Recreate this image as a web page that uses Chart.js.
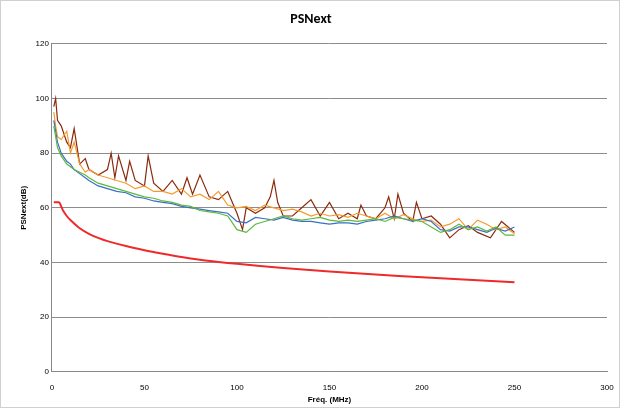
<!DOCTYPE html>
<html>
<head>
<meta charset="utf-8">
<script src="https://cdn.jsdelivr.net/npm/chart.js@4/dist/chart.umd.min.js"></script>
<style>
  html, body { margin: 0; padding: 0; background: #fff; }
  #wrap { width: 618px; height: 406px; border: 1px solid #d0d0d0; }
</style>
</head>
<body>
<div id="wrap"><canvas id="chart" width="618" height="406"></canvas></div>
<script>
// Frequencies (MHz) shared by three of the measured pairs
const freqs = [1, 2, 3, 5, 8, 10, 12, 15, 18, 20, 25, 30, 35, 40, 45, 50, 55, 60, 65, 70, 75, 80, 85, 90, 95,
  100, 105, 110, 115, 120, 125, 130, 135, 140, 145, 150, 155, 160, 165, 170, 175, 180, 185, 190, 195,
  200, 205, 210, 215, 220, 225, 230, 235, 240, 245, 250];

const pairBlue = [92, 88, 84, 80, 77, 76, 74, 72.5, 71, 70, 68, 67, 66, 65.5, 64, 63.5, 62.5, 62, 61.5, 60.5, 60, 59.5, 59, 58.5, 58,
  55, 54.5, 56.5, 56, 55.5, 56.5, 55.5, 55, 55, 54.5, 54, 54.5, 54.5, 54, 55, 55.5, 56, 57, 56, 55,
  56, 55, 52, 51.5, 53, 53, 52, 51, 52.5, 51.5, 53];
const pairGreen = [90, 86, 82, 79, 76, 75, 74, 73, 72, 71, 69, 68, 67, 66, 65, 64, 63.5, 62.5, 62, 61, 60.5, 59, 58.5, 58, 57,
  52, 51, 54, 55, 56, 57, 56, 55.5, 56, 56.5, 55.5, 55, 55.5, 55, 55.5, 56, 55, 56.5, 56, 55.5,
  55, 53, 51, 52, 54, 52, 53, 51.5, 53, 50, 50];
const pairOrange = [95, 90, 86, 85, 88, 80, 84, 76, 73, 74, 72, 71, 70, 69, 67, 68, 66, 66, 65, 67, 64, 65, 63, 66, 61,
  60, 60.5, 59, 61, 60, 59, 59.5, 58.5, 57, 58, 57, 57.5, 56.5, 58, 57, 56, 58, 56, 57.5, 56,
  55, 55.5, 53, 54, 56, 52, 55.5, 54, 52, 53, 50.5];

// The darkest pair is spikier, so it has its own frequency list
const freqsDark = [1, 2, 3, 5, 8, 10, 12, 15, 18, 20, 25, 30, 32, 34, 36, 40, 42, 45, 50, 52, 55, 60, 65, 70, 73, 76, 80, 85, 90, 95,
  100, 103, 105, 110, 115, 118, 120, 122, 125, 130, 135, 140, 145, 150, 155, 160, 165, 167, 170, 175, 180, 182, 185, 187, 190, 195, 197,
  200, 205, 210, 215, 220, 225, 230, 237, 243, 250];
const pairDark = [97, 100, 92, 90, 84, 82, 89, 76, 78, 74, 72, 74, 80, 71, 79, 70, 77, 70, 68, 79, 69, 66, 70, 65, 71, 65, 72, 64, 63, 66,
  58, 52, 60, 58, 60, 64, 70, 62, 57, 57, 60, 63, 57, 62, 56, 58, 56, 61, 57, 56, 60, 64, 56, 65, 58, 55, 62,
  56, 57, 54, 49, 52, 53.5, 51, 49, 55, 51];

// Limit curve
const limitFreqs = [1, 2, 3, 4, 5, 6, 8, 10, 15, 20, 25, 30, 40, 50, 60, 70, 80, 90, 100, 125, 150, 175, 200, 225, 250];
const limitVals = [62, 62, 62, 62, 60.5, 59, 57, 55.5, 52.5, 50.5, 49, 47.8, 46, 44.5, 43.2, 42, 41, 40.2, 39.5, 38, 36.7, 35.6, 34.6, 33.7, 32.8];

function toPoints(xs, ys) {
  return xs.map((x, i) => ({ x: x, y: ys[i] }));
}

function pairDataset(label, xs, vals, color) {
  return {
    label: label,
    data: toPoints(xs, vals),
    borderColor: color,
    borderWidth: 1.2,
    pointRadius: 0,
    tension: 0
  };
}

new Chart(document.getElementById('chart'), {
  type: 'line',
  data: {
    datasets: [
      pairDataset('Paire 1', freqs, pairGreen, '#5cb83c'),
      pairDataset('Paire 2', freqs, pairBlue, '#3a6fc4'),
      pairDataset('Paire 3', freqs, pairOrange, '#f79a2e'),
      pairDataset('Paire 4', freqsDark, pairDark, '#8b2a0c'),
      {
        label: 'Limite',
        data: toPoints(limitFreqs, limitVals),
        borderColor: '#ee2a2a',
        borderWidth: 2,
        pointRadius: 0,
        tension: 0.3
      }
    ]
  },
  options: {
    responsive: false,
    animation: false,
    layout: { padding: { left: 14, right: 12, top: 4, bottom: 2 } },
    plugins: {
      legend: { display: false },
      tooltip: { enabled: false },
      title: {
        display: true,
        text: 'PSNext',
        color: '#000',
        font: { family: 'Carlito, Calibri, "Liberation Sans", sans-serif', size: 14, weight: 'bold' },
        padding: { top: 6, bottom: 16 }
      }
    },
    scales: {
      x: {
        type: 'linear',
        min: 0, max: 300,
        ticks: { stepSize: 50, color: '#000', font: { size: 8 } },
        grid: { display: false },
        border: { color: '#888' },
        title: { display: true, text: 'Fréq. (MHz)', color: '#000', font: { size: 8, weight: 'bold' }, padding: 0 }
      },
      y: {
        min: 0, max: 120,
        ticks: { stepSize: 20, color: '#000', font: { size: 8 } },
        grid: { color: '#8c8c8c', drawTicks: false },
        border: { color: '#888' },
        title: { display: true, text: 'PSNext(dB)', color: '#000', font: { size: 8, weight: 'bold' } }
      }
    }
  }
});
</script>
</body>
</html>
